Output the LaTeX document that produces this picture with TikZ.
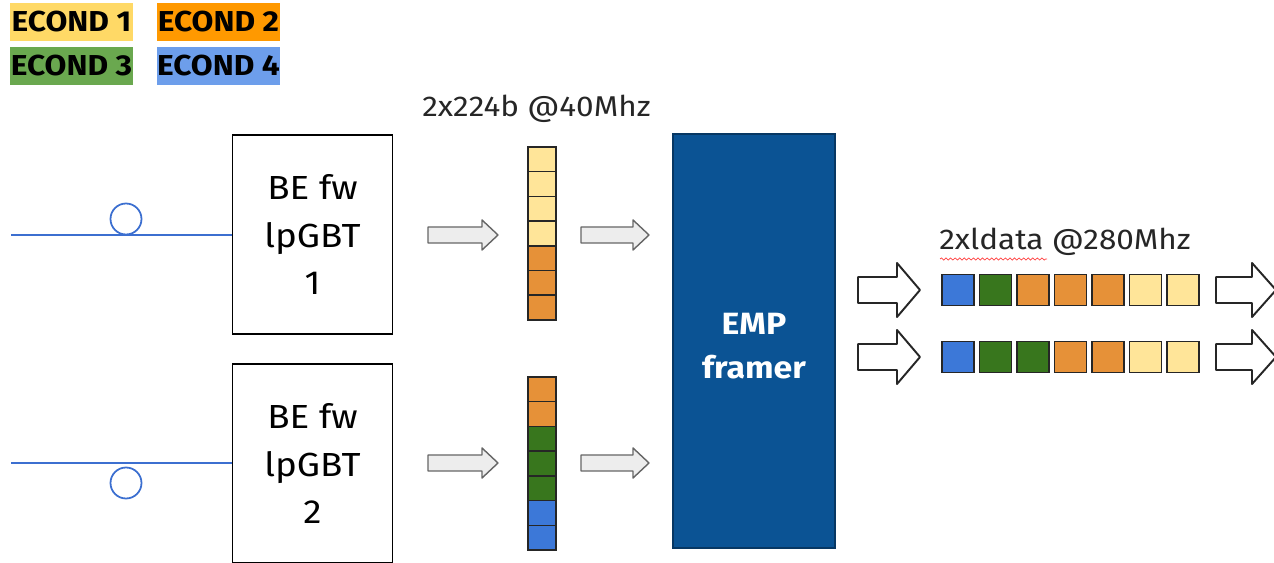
\documentclass[tikz,border=0pt]{standalone}
\usepackage{fontspec}
\setmainfont{Fira Sans}[FakeStretch=1.1]
\usetikzlibrary{decorations.pathmorphing}

\definecolor{legendA}{HTML}{FFD966}
\definecolor{legendB}{HTML}{FF9900}
\definecolor{legendC}{HTML}{6AA84F}
\definecolor{legendD}{HTML}{6D9EEB}
\definecolor{cellA}{HTML}{FFE599}
\definecolor{cellB}{HTML}{E69138}
\definecolor{cellC}{HTML}{38761D}
\definecolor{cellD}{HTML}{3C78D8}
\definecolor{empBlue}{HTML}{0B5394}
\definecolor{empEdge}{HTML}{073763}
\definecolor{fiberBlue}{HTML}{3C6FD0}

% block arrow: style, tail x, mid y, length, half shaft, half head, head length
\newcommand{\blockarrow}[7]{%
  \draw[#1]
    (#2,#3-#5) -- (#2+#4-#7,#3-#5) -- (#2+#4-#7,#3-#6) --
    (#2+#4,#3) --
    (#2+#4-#7,#3+#6) -- (#2+#4-#7,#3+#5) -- (#2,#3+#5) -- cycle;
}

\tikzset{
  legendbox/.style={minimum width=2.46cm, minimum height=0.76cm, inner sep=0pt,
    font=\fontsize{16.4}{18}\selectfont\bfseries},
  bebox/.style={draw=black, line width=0.85pt, fill=white, align=center,
    minimum width=3.2cm, minimum height=3.98cm,
    font=\fontsize{19}{26.8}\selectfont},
  cell/.style={draw=black!85, line width=0.85pt, minimum width=0.56cm,
    minimum height=0.494cm, inner sep=0pt},
  word/.style={draw=black!85, line width=0.85pt, minimum width=0.64cm,
    minimum height=0.62cm, inner sep=0pt},
  grayarrow/.style={draw=black!60, fill=black!7, line width=0.8pt, line join=round},
  whitearrow/.style={draw=black!85, fill=white, line width=1.1pt, line join=round},
  fiber/.style={draw=fiberBlue, line width=1pt},
  rate/.style={inner sep=0pt, anchor=base west, text=black!85,
    font=\fontsize{16.3}{18}\selectfont}
}

\begin{document}
\begin{tikzpicture}[x=0.02cm, y=-0.02cm]
  \clip (0,0) rectangle (1274,563);

  % Legend
  \node[legendbox, fill=legendA] (leg1) at (71.5,22) {ECOND 1};
  \node[legendbox, fill=legendB] (leg2) at (218.5,22) {ECOND 2};
  \node[legendbox, fill=legendC] (leg3) at (71.5,66) {ECOND 3};
  \node[legendbox, fill=legendD] (leg4) at (218.5,66) {ECOND 4};

  % lpGBT boxes and fibres
  \node[bebox] (be1) at (312.5,234.5) {BE fw\\lpGBT\\1};
  \node[bebox] (be2) at (312.5,463.5) {BE fw\\lpGBT\\2};

  \coordinate (fib1) at (11,235);
  \coordinate (fib2) at (11,463);
  \draw[fiber] (fib1) -- (fib1 -| be1.west);
  \draw[fiber] (fib2) -- (fib2 -| be2.west);
  \draw[fiber] (126,219) circle (15.5);
  \draw[fiber] (126,483) circle (15.5);

  % 224b words
  \foreach \c [count=\i from 0] in {cellA,cellA,cellA,cellA,cellB,cellB,cellB}
    \node[cell, fill=\c] (top\i) at (542,159.4+\i*24.7) {};
  \foreach \c [count=\i from 0] in {cellB,cellB,cellC,cellC,cellC,cellD,cellD}
    \node[cell, fill=\c] (bot\i) at (542,389.4+\i*24.7) {};

  \blockarrow{grayarrow}{428}{235}{70}{8}{15}{16}
  \blockarrow{grayarrow}{581}{235}{68}{8}{15}{16}
  \blockarrow{grayarrow}{428}{463}{70}{8}{15}{16}
  \blockarrow{grayarrow}{581}{463}{68}{8}{15}{16}

  % framer
  \node[fill=empBlue, draw=empEdge, line width=0.85pt,
    minimum width=3.24cm, minimum height=8.28cm] (emp) at (754,341) {};
  \node[text=white, align=center, font=\fontsize{17.5}{25}\selectfont\bfseries]
    (empText) at (754,346) {EMP\\framer};

  % output words
  \foreach \c [count=\i from 0] in {cellD,cellC,cellB,cellB,cellB,cellA,cellA}
    \node[word, fill=\c] (outA\i) at (958+\i*37.5,290) {};
  \foreach \c [count=\i from 0] in {cellD,cellC,cellC,cellB,cellB,cellA,cellA}
    \node[word, fill=\c] (outB\i) at (958+\i*37.5,357) {};

  \blockarrow{whitearrow}{858}{290}{62}{13}{27}{23}
  \blockarrow{whitearrow}{858}{357}{62}{13}{27}{23}
  \blockarrow{whitearrow}{1216}{290}{60}{13}{27}{24}
  \blockarrow{whitearrow}{1216}{357}{60}{13}{27}{24}

  % Labels
  \node[rate] (rateIn) at (422,117) {2x224b @40Mhz};
  \node[rate] (rateOut) at (939,250) {2xldata @280Mhz};
  \draw[red!75, line width=0.4pt, decorate,
    decoration={snake, amplitude=0.6pt, segment length=2.6pt}]
    (rateOut.base west) ++(1,9) -- ++(107,0);
\end{tikzpicture}
\end{document}
